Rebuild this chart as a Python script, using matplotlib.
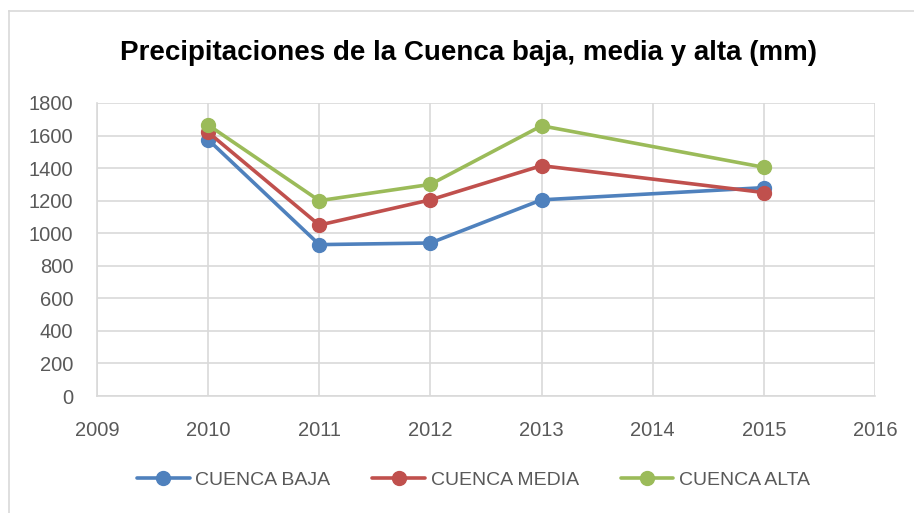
import matplotlib
matplotlib.use("Agg")
import matplotlib.pyplot as plt
from matplotlib.lines import Line2D

years = [2010, 2011, 2012, 2013, 2015]
baja = [1575, 930, 940, 1205, 1280]
media = [1620, 1050, 1205, 1415, 1250]
alta = [1665, 1200, 1300, 1660, 1405]
labels = ["CUENCA BAJA", "CUENCA MEDIA", "CUENCA ALTA"]
colors = ["#4F81BD", "#C0504D", "#9BBB59"]
title = "Precipitaciones de la Cuenca baja, media y alta (mm)"

plt.rcParams['font.family'] = ['Liberation Sans', 'DejaVu Sans']

W, H = 914, 513
fig = plt.figure(figsize=(W / 100, H / 100), dpi=100)
ax = fig.add_axes([97 / W, 1 - 396 / H, (875 - 97) / W, (396 - 103) / H])

for vals, lab, col in zip([baja, media, alta], labels, colors):
    ax.plot(years, vals, color=col, lw=2.6, marker='o', ms=10, label=lab,
            solid_capstyle='round')

ax.set_xlim(2009, 2016)
ax.set_ylim(0, 1800)
ax.set_xticks(range(2009, 2017))
ax.set_yticks(range(0, 1801, 200))
ax.grid(True, color='#D9D9D9', lw=1.2)
ax.set_axisbelow(True)
for s in ['top', 'right']:
    ax.spines[s].set_visible(False)
for s in ['left', 'bottom']:
    ax.spines[s].set_color('#D9D9D9')
    ax.spines[s].set_linewidth(1.2)
ax.tick_params(length=0, labelsize=14.5, labelcolor='#595959')
ax.tick_params(axis='y', pad=17)
ax.tick_params(axis='x', pad=18)

fig.text(0.513, 1 - 53 / H, title, ha='center', va='center',
         fontsize=20, fontweight='bold', color='black')

fig.legend(loc='center', bbox_to_anchor=(0.518, 1 - 480 / H), ncol=3,
           frameon=False, fontsize=14, handlelength=2.7, handletextpad=0.3,
           columnspacing=2.15, labelcolor='#595959')

fig.add_artist(Line2D([9 / W, 1], [1 - 11 / H, 1 - 11 / H], color='#D9D9D9',
                      lw=1.2, transform=fig.transFigure))
fig.add_artist(Line2D([9 / W, 9 / W], [0, 1 - 11 / H], color='#D9D9D9',
                      lw=1.2, transform=fig.transFigure))

fig.savefig("out.png", dpi=100)
